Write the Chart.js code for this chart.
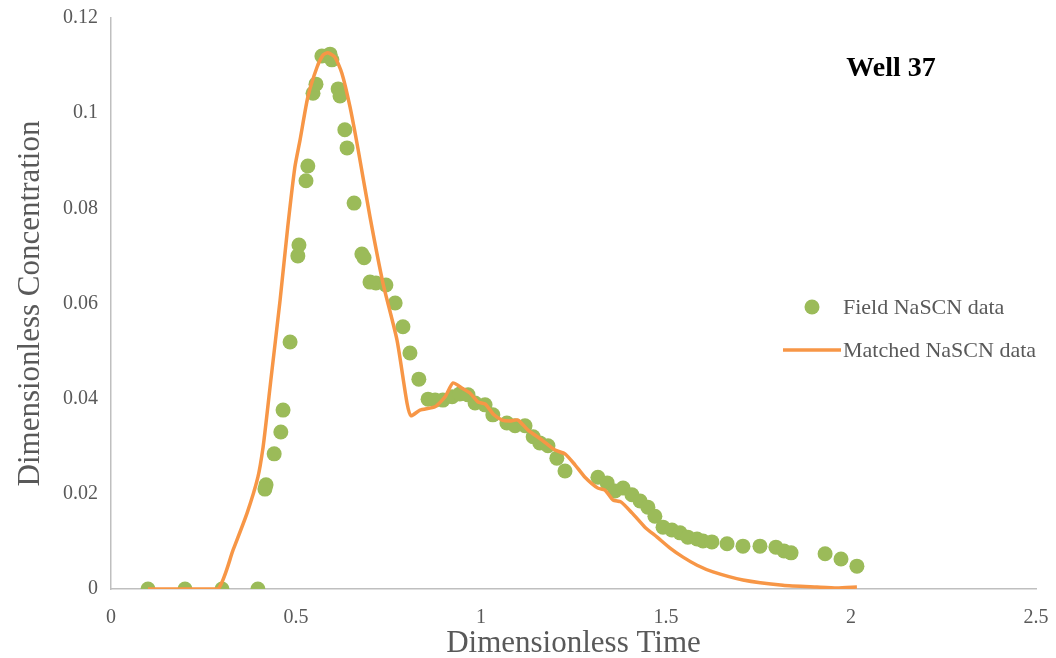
<!DOCTYPE html>
<html>
<head>
<meta charset="utf-8">
<script src="https://cdn.jsdelivr.net/npm/chart.js@4.4.1/dist/chart.umd.min.js"></script>
<style>
  html, body { margin: 0; padding: 0; background: #fff; }
  #wrap { position: relative; width: 1056px; height: 658px; }
</style>
</head>
<body>
<div id="wrap"><canvas id="c" width="1056" height="658"></canvas></div>
<script>
// Field NaSCN data (scatter)
const fieldTime = [0.10, 0.20, 0.30, 0.397, 0.419, 0.416, 0.441, 0.459, 0.465, 0.484,
  0.505, 0.508, 0.527, 0.532, 0.546, 0.554, 0.570, 0.592, 0.597, 0.614,
  0.619, 0.632, 0.638, 0.657, 0.678, 0.684, 0.700, 0.716, 0.743, 0.768,
  0.789, 0.808, 0.832, 0.857, 0.876, 0.897, 0.922, 0.943, 0.965, 0.984,
  1.011, 1.032, 1.070, 1.092, 1.119, 1.141, 1.159, 1.181, 1.205, 1.227,
  1.316, 1.341, 1.362, 1.384, 1.408, 1.430, 1.451, 1.470, 1.492, 1.516,
  1.538, 1.559, 1.584, 1.600, 1.624, 1.665, 1.708, 1.754, 1.797, 1.819,
  1.838, 1.930, 1.973, 2.016];
const fieldConc = [0, 0, 0, 0, 0.0219, 0.0210, 0.0284, 0.0330, 0.0376, 0.0519,
  0.0700, 0.0723, 0.0858, 0.0889, 0.1042, 0.1061, 0.1120, 0.1124, 0.1112, 0.1051,
  0.1036, 0.0965, 0.0927, 0.0811, 0.0704, 0.0696, 0.0645, 0.0643, 0.0639, 0.0601,
  0.0551, 0.0496, 0.0441, 0.0399, 0.0397, 0.0397, 0.0404, 0.0410, 0.0408, 0.0391,
  0.0387, 0.0366, 0.0349, 0.0343, 0.0343, 0.0320, 0.0307, 0.0301, 0.0275, 0.0248,
  0.0235, 0.0223, 0.0206, 0.0212, 0.0198, 0.0185, 0.0172, 0.0153, 0.0130, 0.0124,
  0.0118, 0.0109, 0.0105, 0.0101, 0.0099, 0.0095, 0.0090, 0.0090, 0.0088, 0.0080,
  0.0076, 0.0074, 0.0063, 0.0048];

// Matched NaSCN data (line)
const matchedTime = [0.100, 0.200, 0.289, 0.330, 0.368, 0.397, 0.411, 0.422, 0.432, 0.457,
  0.478, 0.497, 0.511, 0.532, 0.557, 0.573, 0.586, 0.605, 0.624, 0.646,
  0.668, 0.700, 0.735, 0.773, 0.800, 0.811, 0.835, 0.876, 0.903, 0.924,
  0.949, 0.970, 0.992, 1.011, 1.035, 1.057, 1.078, 1.100, 1.127, 1.165,
  1.200, 1.227, 1.254, 1.281, 1.316, 1.335, 1.357, 1.378, 1.408, 1.443,
  1.476, 1.511, 1.546, 1.584, 1.627, 1.708, 1.816, 1.908, 1.962, 2.016];
const matchedConc = [0.0000, 0.0000, 0.0000, 0.0082, 0.0160, 0.0235, 0.0298, 0.0370, 0.0439, 0.0607,
  0.0763, 0.0887, 0.0944, 0.1034, 0.1097, 0.1122, 0.1127, 0.1118, 0.1084, 0.1013,
  0.0923, 0.0782, 0.0643, 0.0523, 0.0391, 0.0364, 0.0376, 0.0383, 0.0404, 0.0433,
  0.0422, 0.0412, 0.0393, 0.0389, 0.0366, 0.0355, 0.0353, 0.0355, 0.0334, 0.0313,
  0.0292, 0.0284, 0.0261, 0.0235, 0.0212, 0.0208, 0.0187, 0.0183, 0.0160, 0.0130,
  0.0109, 0.0086, 0.0067, 0.0050, 0.0036, 0.0019, 0.0008, 0.0004, 0.0002, 0.0004];

const xTicks = [0, 0.5, 1, 1.5, 2, 2.5];
const yTicks = [0, 0.02, 0.04, 0.06, 0.08, 0.1, 0.12];
const xTickLabels = ['0', '0.5', '1', '1.5', '2', '2.5'];
const yTickLabels = ['0', '0.02', '0.04', '0.06', '0.08', '0.1', '0.12'];

const seriesNames = ['Field NaSCN data', 'Matched NaSCN data'];
const chartTitle = 'Well 37';
const xTitle = 'Dimensionless Time';
const yTitle = 'Dimensionless Concentration';

const GREEN = '#9BBB59';
const ORANGE = '#F79646';
const SERIF = '"Liberation Serif", "Times New Roman", serif';

const fieldPts = fieldTime.map((t, i) => ({ x: t, y: fieldConc[i] }));
const matchedPts = matchedTime.map((t, i) => ({ x: t, y: matchedConc[i] }));

const overlay = {
  id: 'overlay',
  afterDraw(chart) {
    const ctx = chart.ctx;
    ctx.save();
    // Title
    ctx.font = 'bold 28px ' + SERIF;
    ctx.fillStyle = '#000';
    ctx.textAlign = 'center';
    ctx.textBaseline = 'middle';
    ctx.fillText(chartTitle, 891, 69);
    // Legend
    ctx.font = '22px ' + SERIF;
    ctx.textAlign = 'left';
    ctx.beginPath();
    ctx.arc(812, 307, 7.5, 0, Math.PI * 2);
    ctx.fillStyle = GREEN;
    ctx.fill();
    ctx.fillStyle = '#595959';
    ctx.fillText(seriesNames[0], 843, 308);
    ctx.beginPath();
    ctx.moveTo(783, 350);
    ctx.lineTo(841, 350);
    ctx.strokeStyle = ORANGE;
    ctx.lineWidth = 3.5;
    ctx.stroke();
    ctx.fillText(seriesNames[1], 843, 351);
    ctx.restore();
  }
};

new Chart(document.getElementById('c'), {
  type: 'scatter',
  data: {
    datasets: [
      {
        label: seriesNames[0],
        data: fieldPts,
        backgroundColor: GREEN,
        borderColor: GREEN,
        pointRadius: 7.5,
        pointBorderWidth: 0,
        order: 2
      },
      {
        label: seriesNames[1],
        data: matchedPts,
        showLine: true,
        borderColor: ORANGE,
        backgroundColor: ORANGE,
        borderWidth: 3.5,
        pointRadius: 0,
        tension: 0.2,
        order: 1
      }
    ]
  },
  options: {
    responsive: false,
    animation: false,
    layout: { padding: { left: 0, top: 18, right: 20, bottom: 0 } },
    plugins: {
      legend: { display: false },
      tooltip: { enabled: false }
    },
    scales: {
      x: {
        type: 'linear',
        min: 0, max: 2.5,
        afterBuildTicks(s) { s.ticks = xTicks.map(v => ({ value: v })); },
        afterFit(s) { s.height = 69; s.paddingLeft = 0; s.paddingRight = 0; },
        grid: { display: false, drawTicks: false },
        border: { display: true, color: '#BFBFBF', width: 1.5 },
        ticks: {
          color: '#595959',
          font: { family: SERIF, size: 20 },
          padding: 17,
          callback(v) { const i = xTicks.indexOf(v); return i >= 0 ? xTickLabels[i] : ''; }
        },
        title: {
          display: true, text: xTitle, color: '#595959',
          font: { family: SERIF, size: 31 },
          padding: { top: 0, bottom: -4 }
        }
      },
      y: {
        type: 'linear',
        min: 0, max: 0.12,
        afterBuildTicks(s) { s.ticks = yTicks.map(v => ({ value: v })); },
        afterFit(s) { s.width = 111; s.paddingTop = 0; s.paddingBottom = 0; },
        grid: { display: false, drawTicks: false },
        border: { display: true, color: '#BFBFBF', width: 1.5 },
        ticks: {
          color: '#595959',
          font: { family: SERIF, size: 20 },
          padding: 13,
          callback(v) { const i = yTicks.indexOf(v); return i >= 0 ? yTickLabels[i] : ''; }
        },
        title: {
          display: true, text: yTitle, color: '#595959',
          font: { family: SERIF, size: 31 },
          padding: { top: 12, bottom: 0 }
        }
      }
    }
  },
  plugins: [overlay]
});
</script>
</body>
</html>
